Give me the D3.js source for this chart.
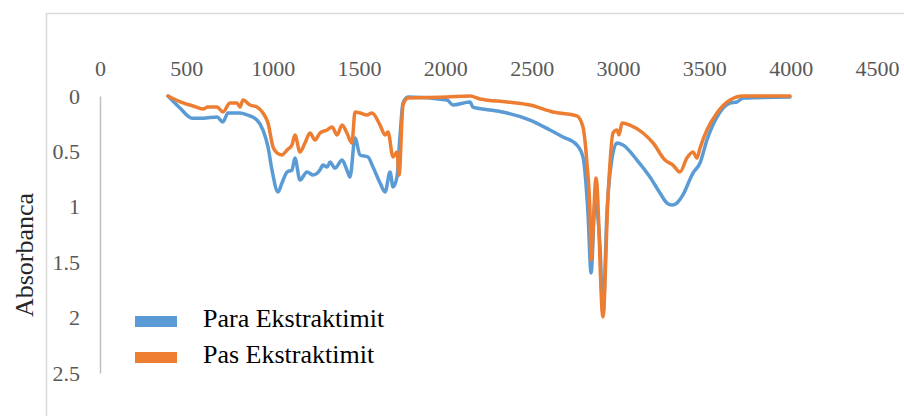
<!DOCTYPE html>
<html>
<head>
<meta charset="utf-8">
<script src="https://cdn.jsdelivr.net/npm/d3@7"></script>
<style>
  html, body { margin: 0; padding: 0; background: #fff; }
  svg { display: block; }
</style>
</head>
<body>
<svg id="chart" width="904" height="416"></svg>
<script>
// FTIR absorbance spectra, before and after extraction
const xTicks = [0, 500, 1000, 1500, 2000, 2500, 3000, 3500, 4000, 4500];
const yTicks = [0, 0.5, 1, 1.5, 2, 2.5];
const seriesNames = ["Para Ekstraktimit", "Pas Ekstraktimit"];
const seriesColors = ["#5b9bd5", "#ed7d31"];

// Para Ekstraktimit: wavenumber (cm-1) and absorbance
const paraWave = [394, 463, 533, 597, 678, 712, 741, 811, 851, 909, 944, 973, 996, 1031, 1054, 1083,
  1112, 1129, 1158, 1199, 1234, 1274, 1291, 1315, 1332, 1361, 1402, 1430, 1448, 1477, 1506, 1552,
  1581, 1622, 1651, 1680, 1697, 1720, 1737, 1755, 1784, 2010, 2044, 2143, 2160, 2259, 2357, 2490,
  2606, 2681, 2762, 2797, 2826, 2844, 2867, 2896, 2913, 2936, 2971, 2994, 3029, 3110, 3185, 3243,
  3284, 3313, 3341, 3376, 3434, 3475, 3515, 3573, 3649, 3689, 3724, 3996];
const paraAbs = [0, 0.108, 0.2, 0.2, 0.19, 0.235, 0.153, 0.153, 0.171, 0.217, 0.307, 0.46, 0.668, 0.866, 0.785, 0.686,
  0.668, 0.56, 0.758, 0.686, 0.713, 0.668, 0.623, 0.641, 0.596, 0.65, 0.578, 0.668, 0.731, 0.379, 0.532, 0.55,
  0.641, 0.785, 0.866, 0.686, 0.821, 0.731, 0.37, 0.063, 0.01, 0.036, 0.081, 0.054, 0.1, 0.126, 0.153, 0.217,
  0.307, 0.37, 0.442, 0.55, 1.056, 1.597, 0.966, 1.363, 1.958, 1.056, 0.514, 0.424, 0.442, 0.578, 0.731, 0.875,
  0.966, 0.984, 0.966, 0.893, 0.695, 0.605, 0.397, 0.19, 0.063, 0.054, 0.018, 0.01];

// Pas Ekstraktimit: wavenumber (cm-1) and absorbance
const pasWave = [394, 481, 539, 597, 625, 678, 712, 753, 793, 811, 828, 869, 909, 944, 973, 1002,
  1025, 1054, 1083, 1112, 1129, 1158, 1187, 1216, 1245, 1274, 1315, 1344, 1373, 1402, 1430, 1459,
  1477, 1506, 1546, 1575, 1622, 1651, 1668, 1697, 1720, 1732, 1755, 1784, 2010, 2143, 2201, 2357,
  2490, 2624, 2762, 2797, 2820, 2838, 2844, 2873, 2913, 2942, 2971, 2994, 3006, 3023, 3069, 3145,
  3203, 3272, 3318, 3359, 3399, 3434, 3457, 3475, 3515, 3573, 3649, 3724, 3996];
const pasAbs = [0, 0.063, 0.09, 0.117, 0.1, 0.1, 0.144, 0.063, 0.063, 0.1, 0.036, 0.081, 0.1, 0.153, 0.244, 0.46,
  0.514, 0.532, 0.487, 0.442, 0.352, 0.505, 0.424, 0.334, 0.397, 0.334, 0.307, 0.28, 0.352, 0.262, 0.334, 0.424,
  0.144, 0.153, 0.171, 0.153, 0.262, 0.352, 0.325, 0.55, 0.505, 0.713, 0.081, 0.018, 0.01, 0, 0.027, 0.054,
  0.081, 0.144, 0.18, 0.28, 0.605, 1.056, 1.48, 0.74, 1.995, 0.91, 0.334, 0.307, 0.35, 0.244, 0.262, 0.334,
  0.424, 0.578, 0.623, 0.686, 0.56, 0.505, 0.56, 0.47, 0.307, 0.153, 0.036, 0, 0];

const svg = d3.select("#chart");

// outer chart frame
svg.append("rect")
  .attr("x", 46.5).attr("y", 13.5)
  .attr("width", 904).attr("height", 420)
  .attr("fill", "none").attr("stroke", "#d9d9d9").attr("stroke-width", 1.5);

const x = d3.scaleLinear().domain([0, 4500]).range([100, 877]);
const y = d3.scaleLinear().domain([0, 2.5]).range([96, 373]);

// wavenumber axis sits above the plot (absorbance grows downward)
const xAxis = svg.append("g")
  .attr("transform", `translate(0,${y(0)})`)
  .call(d3.axisTop(x).tickValues(xTicks).tickSize(0).tickPadding(20).tickFormat(d3.format("d")));
xAxis.select(".domain").remove();
xAxis.selectAll("text")
  .attr("font-family", "'Liberation Serif', 'Times New Roman', serif")
  .attr("font-size", 22).attr("fill", "#595959");

const yAxis = svg.append("g")
  .attr("transform", `translate(${x(0)},0)`)
  .call(d3.axisLeft(y).tickValues(yTicks).tickSize(0).tickPadding(20).tickFormat(d => String(d)));
yAxis.select(".domain").attr("stroke", "#bfbfbf").attr("stroke-width", 1.5);
yAxis.selectAll("text")
  .attr("font-family", "'Liberation Serif', 'Times New Roman', serif")
  .attr("font-size", 22).attr("fill", "#595959");

// axis title
svg.append("text")
  .attr("transform", "translate(33,255) rotate(-90)")
  .attr("text-anchor", "middle")
  .attr("font-family", "'Liberation Serif', 'Times New Roman', serif")
  .attr("font-size", 26).attr("fill", "#262626")
  .text("Absorbanca");

const line = d3.line()
  .x(d => x(d[0])).y(d => y(d[1]))
  .curve(d3.curveMonotoneX);
const series = [
  d3.zip(paraWave, paraAbs),
  d3.zip(pasWave, pasAbs)
];

series.forEach((pts, i) => {
  svg.append("path")
    .datum(pts)
    .attr("d", line)
    .attr("fill", "none")
    .attr("stroke", seriesColors[i])
    .attr("stroke-width", 3.5)
    .attr("stroke-linejoin", "round")
    .attr("stroke-linecap", "round");
});

// legend
const legend = svg.append("g");
seriesNames.forEach((name, i) => {
  const yy = 316 + i * 36;
  legend.append("rect")
    .attr("x", 135).attr("y", yy).attr("width", 42).attr("height", 11)
    .attr("fill", seriesColors[i]);
  legend.append("text")
    .attr("x", 203).attr("y", yy + 11)
    .attr("font-family", "'Liberation Serif', 'Times New Roman', serif")
    .attr("font-size", 26).attr("fill", "#000")
    .text(name);
});
</script>
</body>
</html>
